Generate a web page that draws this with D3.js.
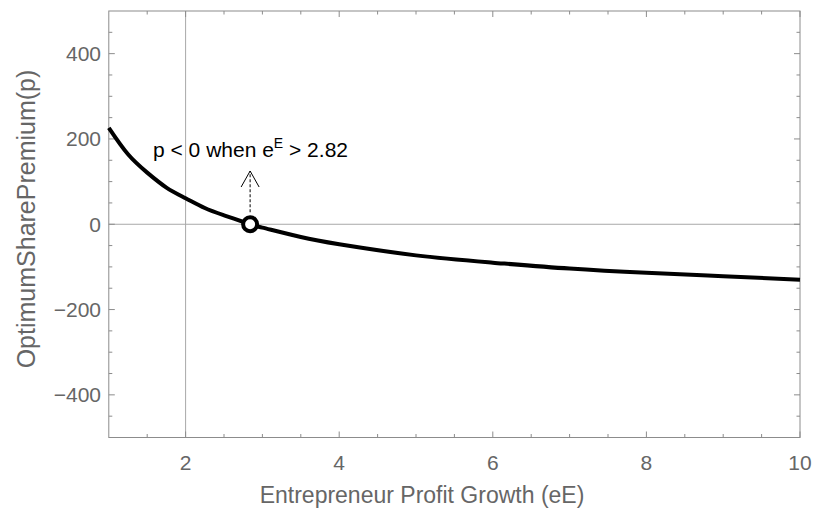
<!DOCTYPE html>
<html><head><meta charset="utf-8">
<script src="https://cdn.jsdelivr.net/npm/d3@7"></script>
<style>body{margin:0;background:#fff}svg{display:block}text{font-family:"Liberation Sans",Arial,sans-serif}</style>
</head><body><svg id="c" width="813" height="515"></svg>
<script>
// data
const growth  = [1, 1.25, 1.5, 1.75, 2, 2.25, 2.5, 2.84, 3, 3.5, 4, 5, 6, 7, 8, 9, 10];
const premium = [226, 164, 121, 86, 61, 38, 21, 0, -8, -30, -47, -73, -90, -104, -114, -122, -130];
const rootX = 2.84;
const xMajor = [2, 4, 6, 8, 10];
const yMajor = [-400, -200, 0, 200, 400];
const xLabel = "Entrepreneur Profit Growth (eE)";
const yLabel = "OptimumSharePremium(p)";

const svg = d3.select("#c");
const L = 108.8, R = 800, T = 11, B = 437.5;
const x = d3.scaleLinear().domain([1, 10]).range([L, R]);
const y = d3.scaleLinear().domain([-500, 500]).range([B, T]);
const gray = "#8c8c8c", lab = "#666";

// axes lines through origin (2,0)
svg.append("line").attr("x1", L).attr("x2", R).attr("y1", y(0)).attr("y2", y(0)).attr("stroke", "#a8a8a8").attr("stroke-width", 1);
svg.append("line").attr("x1", x(2)).attr("x2", x(2)).attr("y1", T).attr("y2", B).attr("stroke", "#a8a8a8").attr("stroke-width", 1);

// frame
svg.append("rect").attr("x", L).attr("y", T).attr("width", R - L).attr("height", B - T)
  .attr("fill", "none").attr("stroke", gray).attr("stroke-width", 1);

const xMinor = d3.range(1.5, 10, 0.5).filter(v => !xMajor.includes(v));
const yMinor = d3.range(-450, 500, 50).filter(v => !yMajor.includes(v));
const g = svg.append("g").attr("stroke", gray).attr("stroke-width", 1);
xMajor.concat(xMinor).forEach(v => {
  const len = xMajor.includes(v) ? 6 : 3.5;
  g.append("line").attr("x1", x(v)).attr("x2", x(v)).attr("y1", B).attr("y2", B - len);
  g.append("line").attr("x1", x(v)).attr("x2", x(v)).attr("y1", T).attr("y2", T + len);
});
yMajor.concat(yMinor).forEach(v => {
  const len = yMajor.includes(v) ? 6 : 3.5;
  g.append("line").attr("y1", y(v)).attr("y2", y(v)).attr("x1", L).attr("x2", L + len);
  g.append("line").attr("y1", y(v)).attr("y2", y(v)).attr("x1", R).attr("x2", R - len);
});

// tick labels
xMajor.forEach(v => svg.append("text").attr("x", x(v)).attr("y", 470).attr("text-anchor", "middle")
  .attr("font-size", 21).attr("fill", lab).text(v));
yMajor.forEach(v => svg.append("text").attr("x", 101).attr("y", y(v) + 7.5).attr("text-anchor", "end")
  .attr("font-size", 21).attr("fill", lab).text(v < 0 ? "\u2212" + Math.abs(v) : v));

// axis titles
svg.append("text").attr("x", 422).attr("y", 503).attr("text-anchor", "middle").attr("font-size", 23)
  .attr("fill", lab).text(xLabel);
svg.append("text").attr("transform", "translate(35,219) rotate(-90)").attr("text-anchor", "middle")
  .attr("font-size", 25).attr("fill", lab).text(yLabel);

// curve
const data = growth.map((g, i) => [g, premium[i]]);
svg.append("path").datum(data).attr("fill", "none").attr("stroke", "#000").attr("stroke-width", 4)
  .attr("d", d3.line().x(d => x(d[0])).y(d => y(d[1])).curve(d3.curveNatural));

// annotation arrow
const ax = x(rootX);
svg.append("line").attr("x1", ax).attr("x2", ax).attr("y1", y(0) - 12).attr("y2", 171)
  .attr("stroke", "#000").attr("stroke-width", 1).attr("stroke-dasharray", "3,2");
svg.append("path").attr("d", `M${ax - 9},${187} L${ax},${171} L${ax + 9},${187}`)
  .attr("fill", "none").attr("stroke", "#000").attr("stroke-width", 1);

// marker
svg.append("circle").attr("cx", ax).attr("cy", y(0)).attr("r", 7).attr("fill", "#fff")
  .attr("stroke", "#000").attr("stroke-width", 4);

// annotation text
const t = svg.append("text").attr("x", 153).attr("y", 157).attr("font-size", 21).attr("fill", "#000");
t.append("tspan").text("p < 0 when e");
t.append("tspan").attr("dy", -9).attr("font-size", 14).text("E");
t.append("tspan").attr("dy", 9).text(" > 2.82");
</script></body></html>
